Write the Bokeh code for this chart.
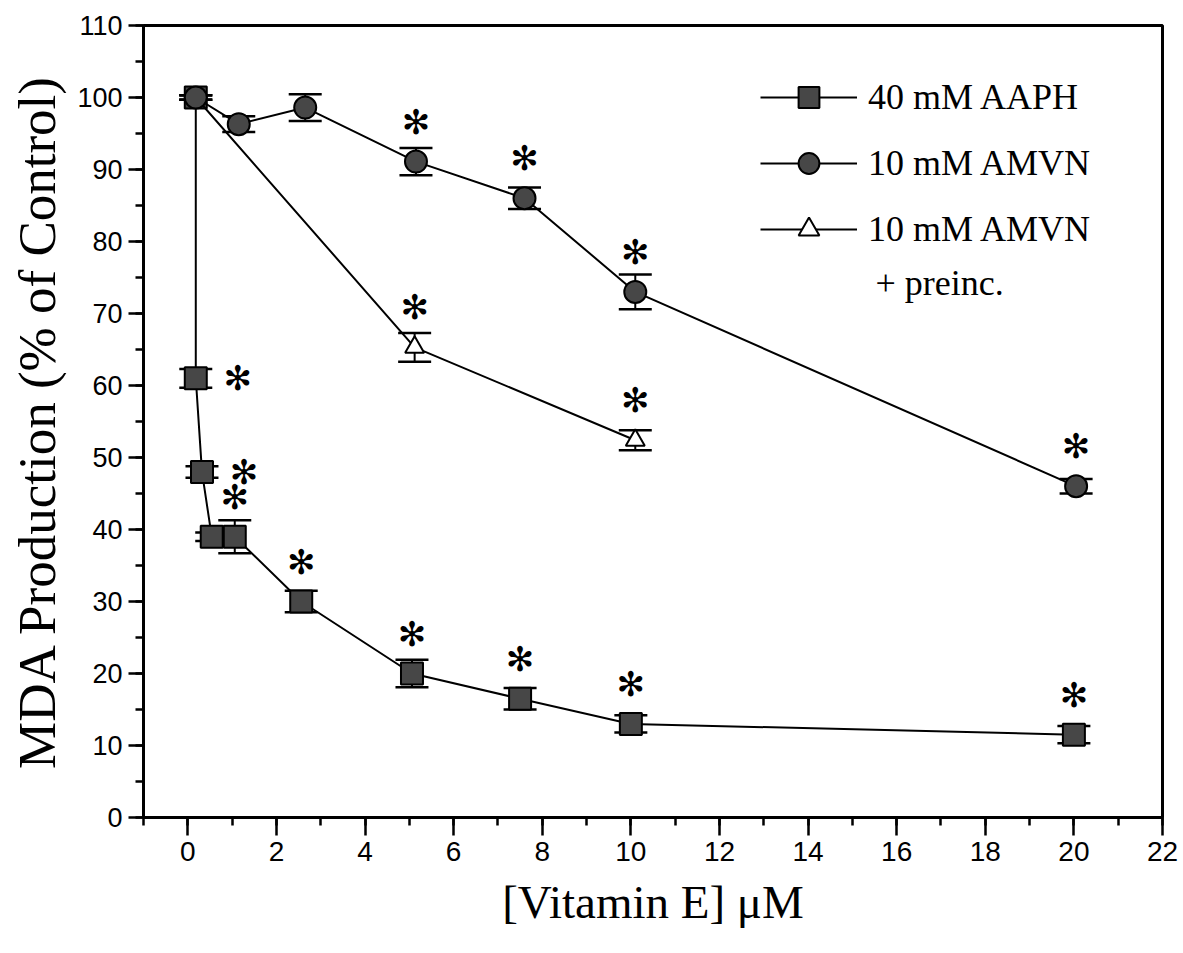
from bokeh.plotting import figure
from bokeh.models import (ColumnDataSource, Whisker, TeeHead, Legend, LegendItem,
                          SingleIntervalTicker, Label)
from bokeh.core.properties import value
from bokeh.embed import file_html
from bokeh.resources import INLINE

# Vitamin E concentration (uM) vs. MDA production (% of control), mean +/- error
aaph_x = [0.18, 0.18, 0.32, 0.54, 1.06, 2.56, 5.06, 7.5, 10.0, 20.0]
aaph_y = [100, 61, 48, 39, 39, 30, 20, 16.5, 13, 11.5]
aaph_err = [0.3, 1.3, 0.8, 0.6, 2.3, 1.5, 1.9, 1.5, 1.2, 1.2]
aaph_sig = [0, 1, 1, 0, 1, 1, 1, 1, 1, 1]

amvn_x = [0.18, 1.15, 2.65, 5.15, 7.6, 10.1, 20.05]
amvn_y = [100, 96.3, 98.6, 91.1, 86, 73, 46]
amvn_err = [0.3, 1.1, 1.85, 1.9, 1.5, 2.4, 1.0]
amvn_sig = [0, 0, 0, 1, 1, 1, 1]

pre_x = [0.18, 5.12, 10.1]
pre_y = [100, 65.3, 52.4]
pre_err = [0.3, 2.0, 1.4]
pre_sig = [0, 1, 1]

x_ticks = list(range(0, 23, 2))
y_ticks = list(range(0, 111, 10))

SERIF = "Liberation Serif"
SANS = "Liberation Sans"
MARK_FILL = "#474747"

p = figure(width=1183, height=953, output_backend="svg", toolbar_location=None,
           x_range=(-1, 22), y_range=(0, 110),
           min_border_left=143, min_border_right=21,
           min_border_top=25, min_border_bottom=136)
p.grid.visible = False
p.background_fill_color = "white"
p.border_fill_color = "white"
p.outline_line_color = "black"
p.outline_line_width = 3
p.outline_line_alpha = 1.0

p.xaxis.ticker = SingleIntervalTicker(interval=2, num_minor_ticks=2)
p.yaxis.ticker = SingleIntervalTicker(interval=10, num_minor_ticks=2)
p.xaxis.axis_label = "[Vitamin E] \u03bcM"
p.yaxis.axis_label = "MDA Production (% of Control)"

for ax in (p.xaxis, p.yaxis):
    ax.axis_line_width = 3
    ax.axis_line_color = "black"
    ax.major_tick_line_width = 2.5
    ax.minor_tick_line_width = 2.5
    ax.major_tick_line_color = "black"
    ax.minor_tick_line_color = "black"
    ax.major_tick_in = 0
    ax.minor_tick_in = 0
    ax.major_label_text_font = SANS
    ax.major_label_text_color = "black"
    ax.axis_label_text_font = SERIF
    ax.axis_label_text_font_style = "normal"
    ax.axis_label_text_color = "black"

p.xaxis.major_tick_out = 18
p.xaxis.minor_tick_out = 8
p.xaxis.major_label_text_font_size = "28px"
p.xaxis.major_label_standoff = 6
p.xaxis.axis_label_text_font_size = "47px"
p.xaxis.axis_label_standoff = 12

p.yaxis.major_tick_out = 15
p.yaxis.minor_tick_out = 8
p.yaxis.major_label_text_font_size = "27px"
p.yaxis.major_label_standoff = 6
p.yaxis.axis_label_text_font_size = "53px"
p.yaxis.axis_label_standoff = 8


def add_series(x, y, err, sig, marker, fill, size):
    src = ColumnDataSource(dict(
        x=x, y=y,
        lo=[v - e for v, e in zip(y, err)],
        hi=[v + e for v, e in zip(y, err)],
    ))
    line = p.line("x", "y", source=src, line_color="black", line_width=2)
    whisk = Whisker(source=src, base="x", lower="lo", upper="hi", dimension="height",
                    line_color="black", line_width=2, level="underlay",
                    upper_head=TeeHead(size=33, line_width=2.5, line_color="black"),
                    lower_head=TeeHead(size=33, line_width=2.5, line_color="black"))
    p.add_layout(whisk)
    mk = p.scatter("x", "y", source=src, marker=marker, size=size,
                   fill_color=fill, line_color="black", line_width=2)

    # significance asterisks: beside the crowded low-dose points, above elsewhere
    above = dict(x=[], y=[])
    side = dict(x=[], y=[])
    for xi, yi, s in zip(x, y, sig):
        if not s:
            continue
        tgt = side if xi < 0.4 else above
        tgt["x"].append(xi)
        tgt["y"].append(yi)
    star_style = dict(text=value("\u273b"), text_font=value("DejaVu Sans"),
                      text_font_size="34px", text_align="center",
                      text_baseline="middle", text_color="black")
    if above["x"]:
        p.text(x=above["x"], y=above["y"], y_offset=-40, **star_style)
    if side["x"]:
        p.text(x=side["x"], y=side["y"], x_offset=42, **star_style)
    return line, mk


aaph_line, aaph_mk = add_series(aaph_x, aaph_y, aaph_err, aaph_sig, "square", MARK_FILL, 22)
pre_line, pre_mk = add_series(pre_x, pre_y, pre_err, pre_sig, "triangle", "white", 19)
amvn_line, amvn_mk = add_series(amvn_x, amvn_y, amvn_err, amvn_sig, "circle", MARK_FILL, 22)

legend = Legend(
    items=[
        LegendItem(label="40 mM AAPH", renderers=[aaph_line, aaph_mk]),
        LegendItem(label="10 mM AMVN", renderers=[amvn_line, amvn_mk]),
        LegendItem(label="10 mM AMVN", renderers=[pre_line, pre_mk]),
    ],
    location=(617, 562), orientation="vertical",
    glyph_width=97, glyph_height=52, label_standoff=11, spacing=14,
    padding=0, margin=0, border_line_color=None, background_fill_alpha=0,
    label_text_font=SERIF, label_text_font_size="36px", label_text_color="black",
)
p.add_layout(legend)

p.add_layout(Label(x=15.52, y=74.2, text="+ preinc.", text_font=SERIF,
                   text_font_size="36px", text_align="left", text_baseline="middle",
                   text_color="black"))

open("out.html", "w").write(file_html(p, INLINE))
